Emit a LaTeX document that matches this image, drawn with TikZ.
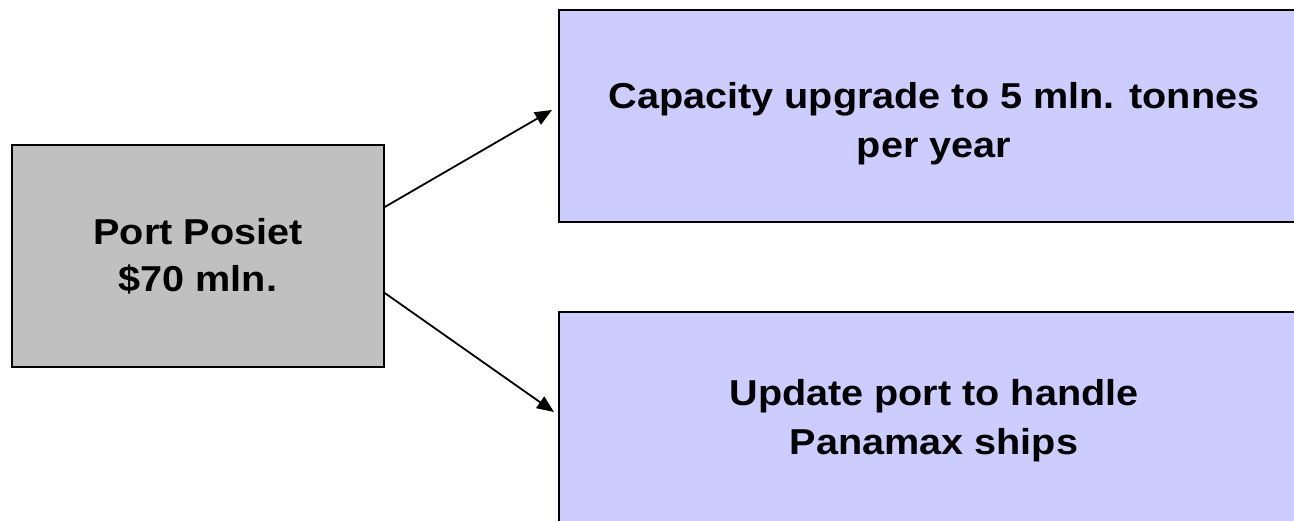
\documentclass[tikz,border=0pt]{standalone}
\usepackage{fontspec}
\setmainfont[FakeStretch=1.1]{Liberation Sans}
\usetikzlibrary{positioning,arrows.meta}
\definecolor{portgray}{HTML}{C0C0C0}
\definecolor{planblue}{HTML}{CCCCFF}
\tikzset{%
  port/.style={draw,line width=1.5pt,fill=portgray,minimum width=372pt,minimum height=222pt,
    align=center,font=\bfseries\fontsize{36}{47}\selectfont},
  plan/.style={draw,line width=2pt,fill=planblue,minimum width=750pt,minimum height=212pt,
    align=center,font=\bfseries\fontsize{36}{49}\selectfont},
  link/.style={line width=1.8pt,-{Triangle[length=17pt,width=14pt]}}
}

\begin{document}
\begin{tikzpicture}[x=1pt,y=-1pt]
  \useasboundingbox (0,0) rectangle (1294,520);
  \clip (0,0) rectangle (1294,520);

  \node [port] (posiet) at (198,256) {Port Posiet\\\$70 mln.};
  \node [plan] (cap) at (934,116) {\rule{0pt}{42pt}Capacity upgrade to 5 mln. tonnes\\per year};
  \node [plan,minimum height=218pt] (upd) at (934,421) {Update port to handle\\ Panamax ships};

  \draw [link] ([yshift=49pt]posiet.east) -- ([shift={(-6pt,6pt)}]cap.west);
  \draw [link] ([yshift=-37pt]posiet.east) -- ([shift={(-4pt,9pt)}]upd.west);
\end{tikzpicture}
\end{document}
